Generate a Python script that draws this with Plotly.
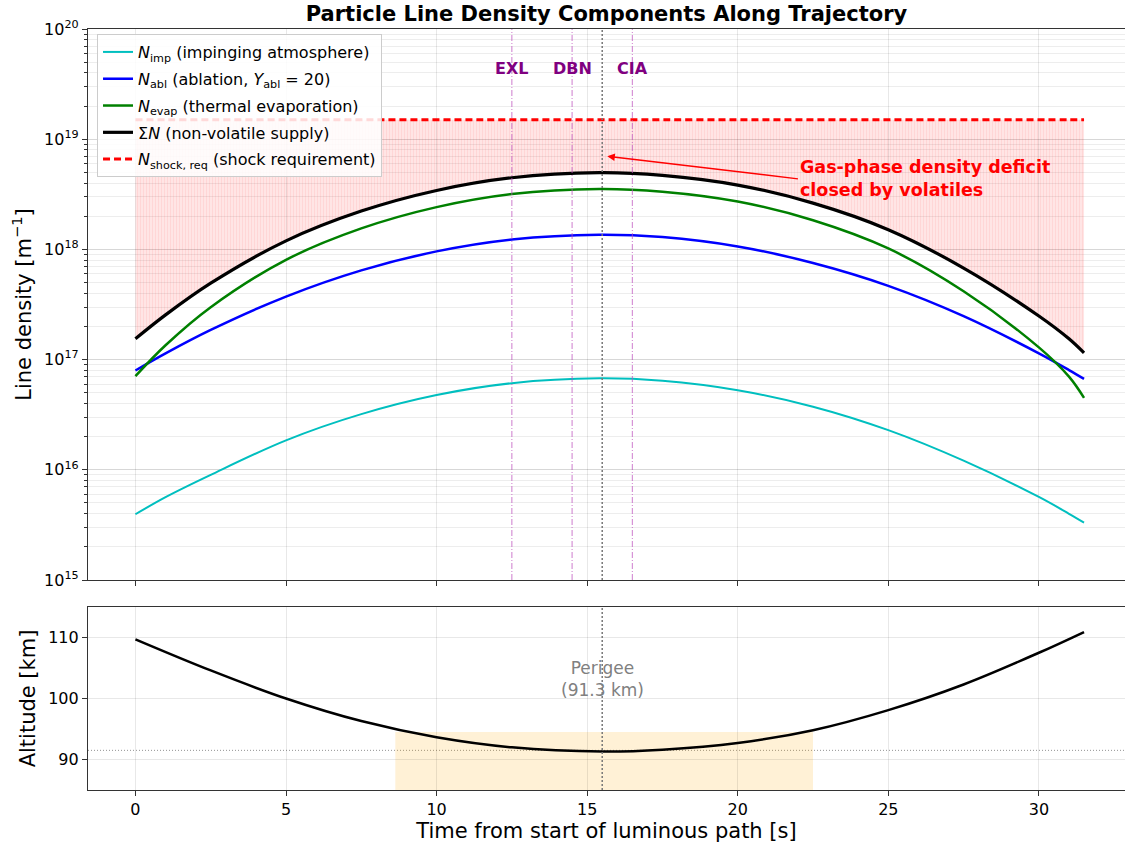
import numpy as np
import plotly.graph_objects as go

# ---------------- data ----------------
t_dens = [0, 1, 2.5, 5, 7.5, 10, 12.5, 15.4, 17.5, 20, 22.5, 25, 27.5, 30, 31, 31.5]
n_imp = [3.95e15, 5.65e15, 9.0e15, 1.85e16, 3.2e16, 4.77e16, 6.11e16, 6.76e16,
         6.42e16, 5.27e16, 3.74e16, 2.29e16, 1.21e16, 5.67e15, 3.99e15, 3.32e15]
n_abl = [7.96e16, 1.138e17, 1.858e17, 3.73e17, 6.45e17, 9.6e17, 1.23e18, 1.36e18,
         1.293e18, 1.062e18, 7.53e17, 4.67e17, 2.48e17, 1.14e17, 8.04e16, 6.68e16]
n_evap = [7.08e16, 1.35e17, 2.99e17, 8.04e17, 1.55e18, 2.42e18, 3.18e18, 3.54e18,
          3.34e18, 2.72e18, 1.84e18, 1.02e18, 4.17e17, 1.29e17, 7.0e16, 4.49e16]
n_shock = [1.5e19] * len(t_dens)

t_alt = [0, 2.5, 5, 7.5, 10, 12.5, 15.5, 17.5, 20, 22.5, 25, 27.5, 30, 31.5]
altitude = [109.7, 104.6, 100.0, 96.3, 93.65, 92.0, 91.3, 91.6, 92.7, 94.8,
            98.1, 102.3, 107.5, 110.9]

station_names = ["EXL", "DBN", "CIA"]
station_times = [12.5, 14.5, 16.5]
perigee_time = 15.5
perigee_alt = 91.3
ref_alt_line = 91.5
band_t = [8.63, 22.5]
band_top = 94.5

x_ticks = [0, 5, 10, 15, 20, 25, 30]
y_exps = [15, 16, 17, 18, 19, 20]
alt_ticks = [90, 100, 110]

n_sum = [float(v) for v in (np.array(n_imp) + np.array(n_abl) + np.array(n_evap))]

FONT = "DejaVu Sans"
fig = go.Figure()

# fill between sum and shock requirement
fig.add_trace(go.Scatter(x=t_dens, y=n_sum, mode="lines", line=dict(width=0, shape="spline"),
                         showlegend=False, hoverinfo="skip", xaxis="x", yaxis="y"))
fig.add_trace(go.Scatter(x=t_dens, y=n_shock, mode="lines", line=dict(width=0),
                         fill="tonexty", fillcolor="rgba(255,0,0,0.10)",
                         fillpattern=dict(shape="|", fgcolor="rgba(255,0,0,0.13)",
                                          bgcolor="rgba(255,0,0,0.10)", size=3, solidity=0.35),
                         showlegend=False, hoverinfo="skip", xaxis="x", yaxis="y"))

series = [
    (n_imp, "#00BFBF", 2, "solid", "<i>N</i><sub>imp</sub> (impinging atmosphere)"),
    (n_abl, "#0000FF", 2.5, "solid", "<i>N</i><sub>abl</sub> (ablation, <i>Y</i><sub>abl</sub> = 20)"),
    (n_evap, "#008000", 2.5, "solid", "<i>N</i><sub>evap</sub> (thermal evaporation)"),
    (n_sum, "#000000", 3.2, "solid", "Σ<i>N</i> (non-volatile supply)"),
    (n_shock, "#FF0000", 3, "7px,4px", "<i>N</i><sub>shock, req</sub> (shock requirement)"),
]
for i, (yv, col, w, dash, name) in enumerate(series):
    fig.add_trace(go.Scatter(x=t_dens, y=yv, mode="lines", name=name,
                             line=dict(color=col, width=w, dash=dash, shape="spline", smoothing=1.0),
                             legendgroup=f"g{i}", xaxis="x", yaxis="y"))

fig.add_trace(go.Scatter(x=t_alt, y=altitude, mode="lines", showlegend=False,
                         line=dict(color="black", width=2.5, shape="spline"),
                         xaxis="x2", yaxis="y2"))

shapes = []
for st in station_times:
    shapes.append(dict(type="line", xref="x", yref="y domain", x0=st, x1=st, y0=0, y1=1,
                       line=dict(color="rgba(190,80,190,0.75)", width=1, dash="6px,2px,1px,2px"),
                       layer="above"))
for xr, yr in [("x", "y domain"), ("x2", "y2 domain")]:
    shapes.append(dict(type="line", xref=xr, yref=yr, x0=perigee_time, x1=perigee_time, y0=0, y1=1,
                       line=dict(color="#777777", width=1.5, dash="2px,2px"), layer="above"))
shapes.append(dict(type="rect", xref="x2", yref="y2", x0=band_t[0], x1=band_t[1], y0=85, y1=band_top,
                   fillcolor="rgba(255,165,0,0.16)", line=dict(width=0), layer="below"))
shapes.append(dict(type="line", xref="x2 domain", yref="y2", x0=0, x1=1, y0=ref_alt_line, y1=ref_alt_line,
                   line=dict(color="#777777", width=0.8, dash="1px,2px"), layer="below"))

annotations = []
for nm, st in zip(station_names, station_times):
    annotations.append(dict(x=st, y=0.9636, xref="x", yref="paper", text=f"<b>{nm}</b>",
                            showarrow=False, font=dict(family=FONT, size=16, color="#800080")))
annotations.append(dict(x=perigee_time, y=103.2, xref="x2", yref="y2",
                        text=f"Perigee<br>({perigee_alt} km)", showarrow=False,
                        font=dict(family=FONT, size=17, color="#808080")))
annotations.append(dict(x=15.67, y=float(np.log10(7.0e18)), xref="x", yref="y",
                        ax=22.0, ay=18.64, axref="x", ayref="y",
                        text="<b>Gas-phase density deficit<br>closed by volatiles</b>",
                        xanchor="left", yanchor="middle", align="left",
                        showarrow=True, arrowhead=2, arrowsize=1, arrowwidth=1.5, arrowcolor="#FF0000",
                        font=dict(family=FONT, size=17.5, color="#FF0000")))

axis_common = dict(showline=True, linecolor="#333333", linewidth=1.2, mirror=True,
                   ticks="outside", ticklen=5, tickcolor="#333333",
                   showgrid=True, gridcolor="rgba(0,0,0,0.09)", gridwidth=1,
                   tickfont=dict(family=FONT, size=16, color="black"), zeroline=False)

fig.update_layout(
    width=1125, height=847,
    margin=dict(l=88, r=0, t=29, b=57),
    plot_bgcolor="white", paper_bgcolor="white",
    font=dict(family=FONT, color="black"),
    title=dict(text="<b>Particle Line Density Components Along Trajectory</b>",
               x=0.5, xref="paper", xanchor="center", y=1 - 14 / 847, yref="container", yanchor="middle",
               font=dict(family=FONT, size=21, color="black")),
    xaxis=dict(domain=[0, 1], anchor="y", range=[-1.575, 32.86], matches="x2",
               tickvals=x_ticks, showticklabels=False, **axis_common),
    yaxis=dict(domain=[0.27595, 1], anchor="x", type="log", range=[15, 20],
               tickvals=[10.0 ** e for e in y_exps], ticktext=[f"10<sup>{e}</sup>" for e in y_exps],
               minor=dict(dtick="D1", showgrid=True, gridcolor="rgba(0,0,0,0.07)", ticks="outside",
                          ticklen=3, tickcolor="#333333"),
               title=dict(text="Line density [m<sup>−1</sup>]", font=dict(family=FONT, size=21), standoff=6),
               **axis_common),
    xaxis2=dict(domain=[0, 1], anchor="y2", range=[-1.575, 32.86], tickvals=x_ticks,
                title=dict(text="Time from start of luminous path [s]", font=dict(family=FONT, size=21), standoff=4),
                **axis_common),
    yaxis2=dict(domain=[0, 0.24047], anchor="x2", range=[85, 115], tickvals=alt_ticks,
                title=dict(text="Altitude [km]", font=dict(family=FONT, size=21), standoff=6),
                **axis_common),
    legend=dict(x=0.0087, y=0.9934, xref="paper", yref="paper", xanchor="left", yanchor="top",
                bgcolor="rgba(255,255,255,0.85)", bordercolor="#cccccc", borderwidth=1,
                font=dict(family=FONT, size=16, color="black"), tracegroupgap=3,
                traceorder="grouped"),
    shapes=shapes, annotations=annotations,
)

fig.write_html("out.html")
